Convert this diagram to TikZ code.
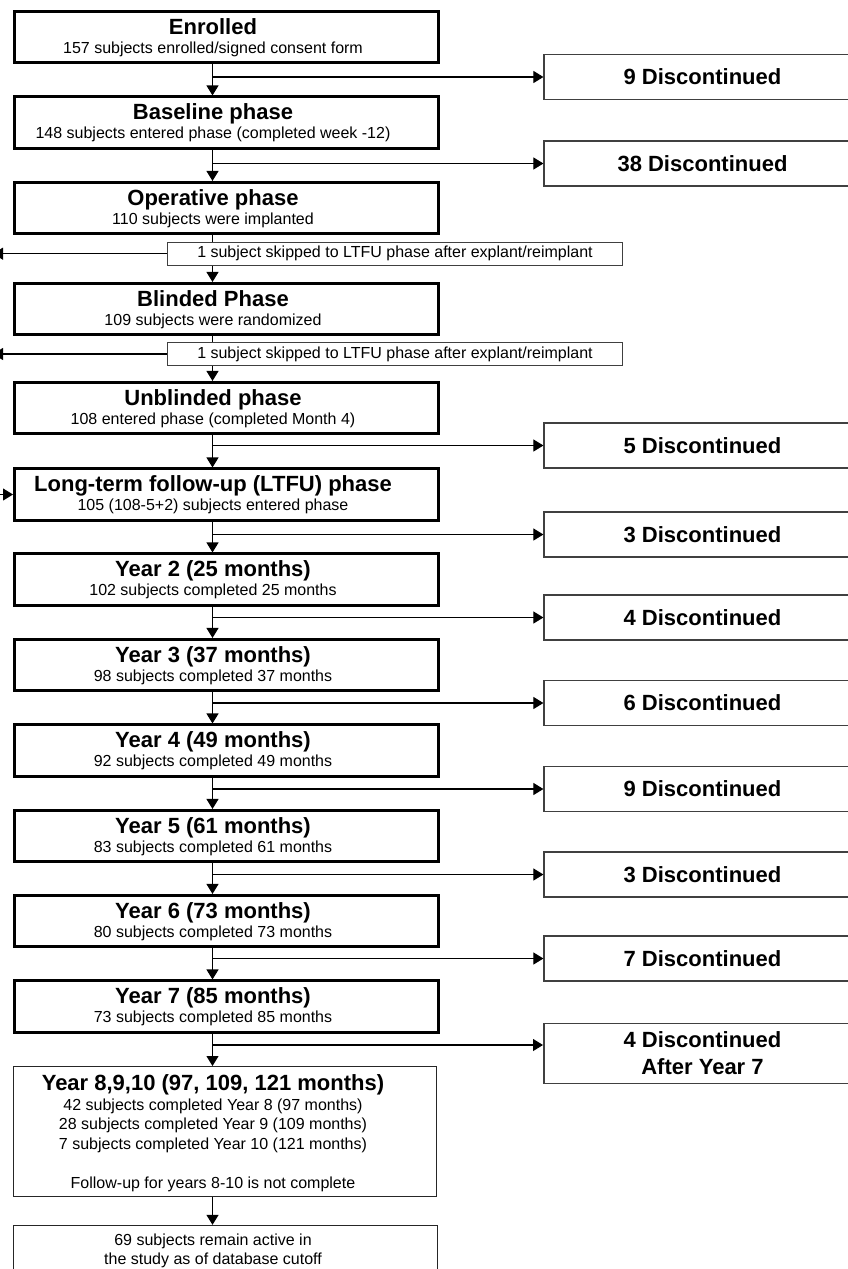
\documentclass[tikz,border=0pt]{standalone}
\usepackage{fontspec}
\setmainfont{Liberation Sans}
\usetikzlibrary{arrows.meta}
\newcommand\mbx[4]{%
  \node[mbox] (#1) at (226.5,#2) {};
  \node[ttl] (#1-t) at (213,{#2-3}) {#3};
  \node[sbt] (#1-s) at (213,{#2+16}) {#4};}
\newcommand\dbx[3]{\node[dbox] (#1) at (702.5,#2) {#3};}
\begin{document}
\begin{tikzpicture}[x=1pt,y=-1pt,
  mbox/.style={draw=black, line width=2.6pt, minimum width=424.4pt, minimum height=51.5pt, inner sep=0pt, fill=white},
  tbox/.style={draw=black!85, line width=1.3pt, inner sep=0pt, fill=white},
  dbox/.style={draw=black!75, line width=1.2pt, minimum width=317pt, minimum height=45pt, inner sep=0pt, fill=white,
    font=\fontsize{22}{27}\selectfont\bfseries, align=center},
  sbox/.style={draw=black!75, line width=1.1pt, minimum width=455pt, minimum height=23pt, inner sep=0pt, fill=white,
    font=\fontsize{16}{19}\selectfont},
  ttl/.style={anchor=base, inner sep=0pt, font=\fontsize{22}{26}\selectfont\bfseries},
  sbt/.style={anchor=base, inner sep=0pt, font=\fontsize{16}{19}\selectfont},
  conn/.style={draw=black, line width=1.1pt},
  arr/.style={conn, -{Triangle[length=10pt,width=12pt]}},
]
\useasboundingbox (0,0) rectangle (848,1269);
\clip (0,0) rectangle (848,1269);
\coordinate (ax) at (212.5,0);

% main boxes
\mbx{enr}{37}{Enrolled}{157 subjects enrolled/signed consent form}
\mbx{base}{122.5}{Baseline phase}{148 subjects entered phase (completed week -12)}
\mbx{oper}{208}{Operative phase}{110 subjects were implanted}
\mbx{blind}{309}{Blinded Phase}{109 subjects were randomized}
\mbx{unbl}{408}{Unblinded phase}{108 entered phase (completed Month 4)}
\mbx{ltfu}{494.5}{Long-term follow-up (LTFU) phase}{105 (108-5+2) subjects entered phase}
\mbx{y2}{579.5}{Year 2 (25 months)}{102 subjects completed 25 months}
\mbx{y3}{665}{Year 3 (37 months)}{98 subjects completed 37 months}
\mbx{y4}{750.5}{Year 4 (49 months)}{92 subjects completed 49 months}
\mbx{y5}{836}{Year 5 (61 months)}{83 subjects completed 61 months}
\mbx{y6}{921}{Year 6 (73 months)}{80 subjects completed 73 months}
\mbx{y7}{1006.5}{Year 7 (85 months)}{73 subjects completed 85 months}

% year 8-10 box
\node[tbox, minimum width=422.7pt, minimum height=129.7pt] (y8) at (225,1131.5) {};
\node[ttl] (y8-t) at (213,1090) {Year 8,9,10 (97, 109, 121 months)};
\node[sbt] (y8-a) at (213,1110) {42 subjects completed Year 8 (97 months)};
\node[sbt] (y8-b) at (213,1129) {28 subjects completed Year 9 (109 months)};
\node[sbt] (y8-c) at (213,1149) {7 subjects completed Year 10 (121 months)};
\node[sbt] (y8-d) at (213,1188) {Follow-up for years 8-10 is not complete};

% final box
\node[tbox, minimum width=423.7pt, minimum height=65pt] (fin) at (225.5,1258) {};
\node[sbt] (fin-a) at (213,1245) {69 subjects remain active in};
\node[sbt] (fin-b) at (213,1264) {the study as of database cutoff};

% skip boxes
\node[sbox] (sk1) at (395,253.7) {1 subject skipped to LTFU phase after explant/reimplant};
\node[sbox] (sk2) at (395,354) {1 subject skipped to LTFU phase after explant/reimplant};

% discontinued boxes
\dbx{d1}{77}{9 Discontinued}
\dbx{d2}{163.5}{38 Discontinued}
\dbx{d3}{445.5}{5 Discontinued}
\dbx{d4}{534.5}{3 Discontinued}
\dbx{d5}{617.5}{4 Discontinued}
\dbx{d6}{703}{6 Discontinued}
\dbx{d7}{789}{9 Discontinued}
\dbx{d8}{874.5}{3 Discontinued}
\dbx{d9}{958.5}{7 Discontinued}
\node[dbox, minimum height=60pt] (d10) at (702.5,1053.5) {4 Discontinued\\After Year 7};

% vertical flow
\draw[arr] (enr.south -| ax) -- (base.north -| ax);
\draw[arr] (base.south -| ax) -- (oper.north -| ax);
\draw[conn] (oper.south -| ax) -- (sk1.north -| ax);
\draw[arr] (sk1.south -| ax) -- (blind.north -| ax);
\draw[conn] (blind.south -| ax) -- (sk2.north -| ax);
\draw[arr] (sk2.south -| ax) -- (unbl.north -| ax);
\draw[arr] (unbl.south -| ax) -- (ltfu.north -| ax);
\draw[arr] (ltfu.south -| ax) -- (y2.north -| ax);
\draw[arr] (y2.south -| ax) -- (y3.north -| ax);
\draw[arr] (y3.south -| ax) -- (y4.north -| ax);
\draw[arr] (y4.south -| ax) -- (y5.north -| ax);
\draw[arr] (y5.south -| ax) -- (y6.north -| ax);
\draw[arr] (y6.south -| ax) -- (y7.north -| ax);
\draw[arr] (y7.south -| ax) -- (y8.north -| ax);
\draw[arr] (y8.south -| ax) -- (fin.north -| ax);

% branches to discontinued
\foreach \d in {d1,d2,d3,d4,d5,d6,d7,d8,d9}
  \draw[arr] (ax |- \d.west) -- (\d.west);
\coordinate (d10in) at (543,1045);
\draw[arr] (ax |- d10in) -- (d10in);

% skips to LTFU (leave the picture on the left)
\coordinate (l1) at (-7,253.7);
\coordinate (l2) at (-7,354);
\coordinate (l3) at (-20,494.5);
\draw[arr] (sk1.west) -- (l1);
\draw[arr] (sk2.west) -- (l2);
\draw[arr] (l3) -- (ltfu.west);
\end{tikzpicture}
\end{document}
